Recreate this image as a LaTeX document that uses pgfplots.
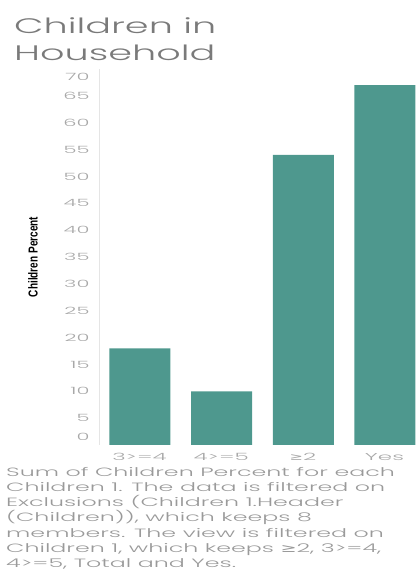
\documentclass[border=0pt]{standalone}
\usepackage{pgfplots}
\pgfplotsset{compat=1.18}
\usepackage{fontspec}
\setmainfont{Poppins}[FakeStretch=1.45]
\newfontfamily\titlefont{Poppins Light}[FakeStretch=1.82]
\newfontfamily\notefont{Poppins Light}[FakeStretch=1.98]
\newfontfamily\ytickfont{Poppins Light}[FakeStretch=2.1]
\newfontfamily\xtickfont{Poppins Light}[FakeStretch=2.3]
\newfontfamily\labelfont{Liberation Sans}[FakeStretch=0.77]
\newfontfamily\symfont{DejaVu Sans}[FakeStretch=1.6]

\definecolor{barteal}{HTML}{4E988E}
\definecolor{titlegray}{HTML}{7A7A7A}
\definecolor{tickgray}{HTML}{A8A8A8}
\definecolor{notegray}{HTML}{9A9A9A}

\begin{document}
\begin{tikzpicture}[x=1pt,y=1pt]
\useasboundingbox (0,0) rectangle (416,571);

% title
\node[anchor=base west, inner sep=0, text=titlegray, font=\titlefont\fontsize{21}{24}\selectfont] at (14,537) {Children in};
\node[anchor=base west, inner sep=0, text=titlegray, font=\titlefont\fontsize{21}{24}\selectfont] at (14,510) {Household};

% y axis title
\node[rotate=90, inner sep=0, font=\labelfont\bfseries\fontsize{13}{15}\selectfont] at (33,314) {Children Percent};

\begin{axis}[
  at={(99pt,126pt)}, anchor=south west,
  scale only axis, width=317pt, height=376pt,
  xmin=-0.5, xmax=3.38, ymin=0, ymax=70,
  axis x line=none,
  axis y line*=left,
  y axis line style={draw=black!10, -},
  ytick={1.5,5,10,15,20,25,30,35,40,45,50,55,60,65,68.5},
  yticklabels={0,5,10,15,20,25,30,35,40,45,50,55,60,65,70},
  major tick length=0pt,
  yticklabel style={text=tickgray, font=\ytickfont\fontsize{10}{12}\selectfont, anchor=east, xshift=-6pt},
  ybar, bar width=61pt,
  clip=false,
]
\addplot[fill=barteal, draw=none] coordinates {(0,18) (1,10) (2,54) (3,67)};
\end{axis}

% category labels
\begin{scope}[every node/.style={text=tickgray, font=\xtickfont\fontsize{10}{12}\selectfont, anchor=base}]
\node at (139.5,110) {3>=4};
\node at (221.2,110) {4>=5};
\node at (303,110) {{\symfont ≥}2};
\node at (384.5,110) {Yes};
\end{scope}

% note
\begin{scope}[every node/.style={text=notegray, font=\notefont\fontsize{12}{14}\selectfont, anchor=base west, inner sep=0}]
\node at (6,94) {Sum of Children Percent for each};
\node at (6,79) {Children 1. The data is filtered on};
\node at (6,64) {Exclusions (Children 1.Header};
\node at (6,49) {(Children)), which keeps 8};
\node at (6,34) {members. The view is filtered on};
\node at (6,19) {Children 1, which keeps {\symfont ≥}2, 3>=4,};
\node at (6,4) {4>=5, Total and Yes.};
\end{scope}
\end{tikzpicture}
\end{document}
